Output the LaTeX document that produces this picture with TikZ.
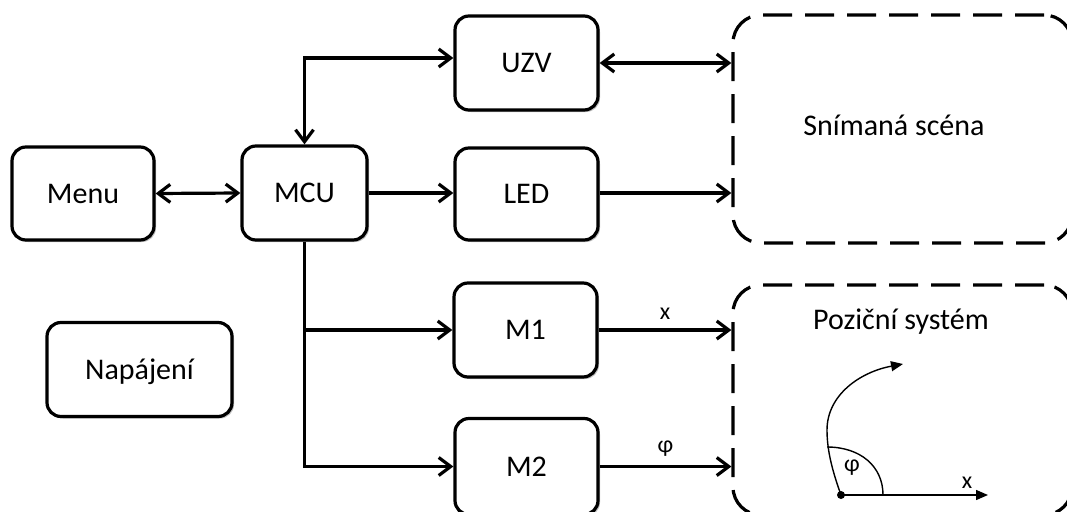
\documentclass[tikz,border=0pt]{standalone}
\usepackage{fontspec}
\setmainfont{Carlito}
\usetikzlibrary{arrows.meta,shadows}
\begin{document}
\begin{tikzpicture}[x=1pt,y=-1pt,
  blk/.style={draw, line width=3.2pt, rounded corners=14pt, fill=white,
    font=\fontsize{30}{36}\selectfont, inner sep=0pt, text height=25pt, text depth=6pt,
    drop shadow={shadow xshift=2pt, shadow yshift=-2pt, opacity=0.25, fill=black}},
  zone/.style={draw, line width=3.2pt, dash pattern=on 29pt off 13pt, rounded corners=28pt, inner sep=0pt},
  tip/.tip={Straight Barb[length=12pt,width=18pt]},
  conn/.style={line width=3.2pt, -tip},
  bconn/.style={line width=3.2pt, tip-tip},
  lbl/.style={font=\fontsize{24}{28}\selectfont, inner sep=0pt},
  zlbl/.style={font=\fontsize{30}{36}\selectfont, inner sep=0pt},
  thinline/.style={line width=1.4pt},
  thinarrow/.style={line width=1.4pt, -{Triangle[length=12pt,width=10pt]}}
]
\useasboundingbox (0,0) rectangle (1067,511);
\clip (0,0) rectangle (1067,511);

% blocks
\node[blk, minimum width=142pt, minimum height=93pt] (menu) at (83,193.5) {Menu};
\node[blk, minimum width=125pt, minimum height=94pt] (mcu) at (304.5,193) {MCU};
\node[blk, minimum width=143pt, minimum height=94pt] (uzv) at (526.5,63) {UZV};
\node[blk, minimum width=143pt, minimum height=92pt] (led) at (526.5,194) {LED};
\node[blk, minimum width=185pt, minimum height=94pt] (nap) at (139.5,369.5) {Napájení};
\node[blk, minimum width=143pt, minimum height=94pt] (m1) at (525.5,330) {M1};
\node[blk, minimum width=143pt, minimum height=96pt] (m2) at (526.5,466.5) {M2};

% zones
\node[zone, minimum width=339pt, minimum height=228pt] (scene) at (902.5,129) {};
\node[zone, minimum width=339pt, minimum height=230pt] (poz) at (902.5,400) {};
\node[zlbl] (scenelbl) at (894,125) {Snímaná scéna};
\node[zlbl] (pozlbl) at (901,322) {Poziční systém};

% connectors
\draw[bconn] (menu.east) -- (mcu.west);
\draw[bconn] (mcu.north) |- ([yshift=5pt]uzv.west);
\draw[conn] (mcu.east) -- (led.west |- mcu.east);
\draw[bconn] (uzv.east) -- (uzv.east -| scene.west);
\draw[conn] (led.east |- mcu.east) -- (mcu.east -| scene.west);
\draw[conn] (mcu.south) |- (m2.west);
\draw[conn] (mcu.south |- m1.west) -- (m1.west);
\draw[conn] (m1.east) -- (m1.east -| poz.west) node[lbl, midway, above=9pt] (lx) {x};
\draw[conn] (m2.east) -- (m2.east -| poz.west) node[lbl, midway, above=9pt] (lphi) {φ};

% small position sketch
\coordinate (o) at (841,495);
\coordinate (xend) at (988,495);
\coordinate (rend) at (903,364);
\fill (o) circle (4pt);
\draw[thinarrow] (o) -- (xend);
\node[lbl] (sx) at (967,483) {x};
\draw[thinarrow] (o) .. controls (832,470) and (827,450) .. (827,430)
  .. controls (827,395) and (860,372) .. (rend);
\draw[thinline] (827,447) .. controls (860,447) and (883,466) .. (883,495);
\node[lbl] (sphi) at (852,468) {φ};
\end{tikzpicture}
\end{document}
